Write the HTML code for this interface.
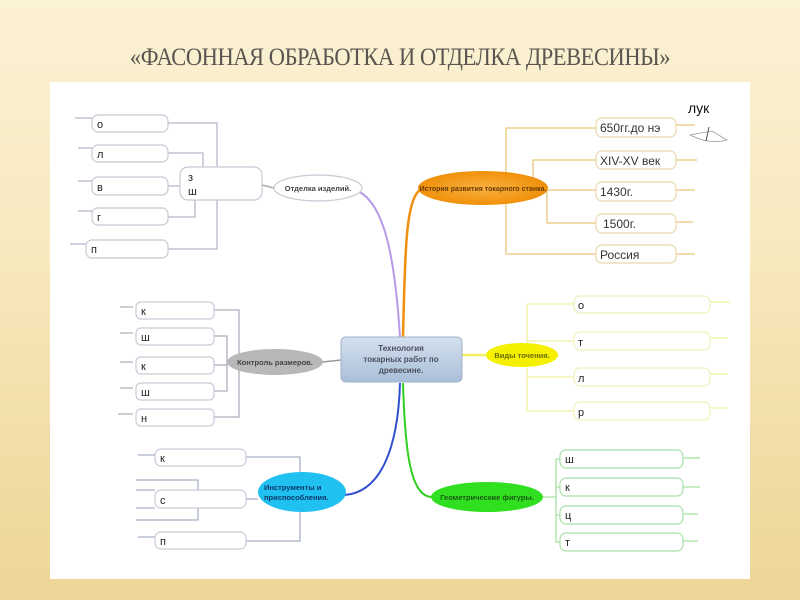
<!DOCTYPE html>
<html><head><meta charset="utf-8"><style>
html,body{margin:0;padding:0;width:800px;height:600px;overflow:hidden}
body{background:linear-gradient(180deg,#fbf1d4 0%,#f8e9bf 40%,#ecd596 100%);position:relative;font-family:"Liberation Sans","Noto Sans CJK SC",sans-serif}
.title{position:absolute;left:0;top:44px;width:800px;text-align:center;font-family:"Liberation Serif","Noto Serif CJK SC",serif;font-size:25px;color:#5a5550;letter-spacing:-0.5px;transform:scaleX(0.9)}
.panel{position:absolute;left:50px;top:82px;width:700px;height:497px;background:#fff}
svg{position:absolute;left:0;top:0}
</style></head><body>
<div class="title">«ФАСОННАЯ ОБРАБОТКА И ОТДЕЛКА ДРЕВЕСИНЫ»</div>
<div class="panel"></div>
<svg width="800" height="600" font-family="Liberation Sans, sans-serif">
<defs>
<linearGradient id="cg" x1="0" y1="0" x2="0" y2="1"><stop offset="0" stop-color="#d4e0ee"/><stop offset="1" stop-color="#a9bfd8"/></linearGradient>
<radialGradient id="og"><stop offset="0" stop-color="#f9b040"/><stop offset="1" stop-color="#f0900a"/></radialGradient>
</defs>
<!-- main curves -->
<path d="M355,190 C385,200 395,260 400,337" stroke="#b89ae8" stroke-width="2" fill="none"/>
<path d="M420,190 C405,200 405,260 403,337" stroke="#f09010" stroke-width="2.5" fill="none"/>
<path d="M400,383 C398,450 380,492 345,495" stroke="#3050d0" stroke-width="2" fill="none"/>
<path d="M403,383 C405,450 410,497 432,497" stroke="#30d020" stroke-width="2" fill="none"/>
<path d="M462,355 L487,355" stroke="#f0f060" stroke-width="2.5"/>
<path d="M341,360 L323,362" stroke="#999" stroke-width="1.5"/>
<path d="M262,185 L274,188" stroke="#aaa" stroke-width="1.5"/>

<!-- left top bracket -->
<g stroke="#b8b8cc" stroke-width="1.3" fill="none">
<path d="M168,123 H217 V249 H168"/>
<path d="M168,153 H203 V167"/>
<path d="M168,217 H195 V200"/>
<path d="M168,186 H180"/>
<path d="M75,118 H92 M78,148 H92 M78,181 H92 M78,211 H92 M70,244 H86"/>
</g>
<g fill="#fff" stroke="#c8c8d4" stroke-width="1.2">
<rect x="92" y="115" width="76" height="17" rx="6"/>
<rect x="92" y="145" width="76" height="17" rx="6"/>
<rect x="92" y="177" width="76" height="18" rx="6"/>
<rect x="92" y="208" width="76" height="17" rx="6"/>
<rect x="86" y="240" width="82" height="18" rx="6"/>
<rect x="180" y="167" width="82" height="33" rx="8"/>
<ellipse cx="318" cy="188" rx="44" ry="13"/>
</g>
<g font-size="11" fill="#222">
<text x="97" y="128">о</text><text x="97" y="158">л</text><text x="97" y="191">в</text><text x="97" y="221">г</text><text x="91" y="253">п</text>
<text x="188" y="181">з</text><text x="188" y="195">ш</text>
</g>
<text x="318" y="191" font-size="7.5" font-weight="bold" fill="#444" text-anchor="middle">Отделка изделий.</text>

<!-- orange history -->
<g stroke="#e8c878" stroke-width="1.3" fill="none">
<path d="M596,128 H506 V254 H596"/>
<path d="M596,160 H533 V188"/>
<path d="M596,223 H547 V188"/>
<path d="M548,190 H596"/>
<path d="M676,125 H695 M676,160 H697 M676,190 H695 M676,222 H693 M676,254 H695"/>
</g>
<ellipse cx="483" cy="188" rx="65" ry="17" fill="url(#og)"/>
<text x="483" y="191" font-size="7" font-weight="bold" fill="#6a3a00" text-anchor="middle">История развития токарного станка.</text>
<g fill="#fff" stroke="#e8d8a8" stroke-width="1.2">
<rect x="596" y="118" width="80" height="19" rx="6"/>
<rect x="596" y="151" width="80" height="18" rx="6"/>
<rect x="596" y="182" width="80" height="19" rx="6"/>
<rect x="596" y="214" width="80" height="19" rx="6"/>
<rect x="596" y="245" width="80" height="18" rx="6"/>
</g>
<g font-size="12" fill="#333">
<text x="600" y="132">650гг.до нэ</text><text x="600" y="165">XIV-XV век</text><text x="600" y="196">1430г.</text><text x="603" y="228">1500г.</text><text x="600" y="259">Россия</text>
</g>
<text x="688" y="113" font-size="14" fill="#111">лук</text>
<path d="M690,135 L712,131 L727,140 Q710,145 690,135 Z" fill="none" stroke="#999" stroke-width="0.8"/>
<path d="M709,127 L706,141" stroke="#555" stroke-width="1"/>

<!-- control -->
<g stroke="#aab0bc" stroke-width="1.3" fill="none">
<path d="M214,310 H239 V417 H214"/>
<path d="M214,336 H227 V362"/>
<path d="M214,391 H227 V362"/>
<path d="M214,365 H227"/>
<path d="M120,307 H133 M120,333 H133 M120,362 H133 M120,388 H133 M118,414 H133"/>
</g>
<g fill="#fff" stroke="#c8ccd8" stroke-width="1.2">
<rect x="136" y="302" width="78" height="17" rx="5"/>
<rect x="136" y="328" width="78" height="17" rx="5"/>
<rect x="136" y="357" width="78" height="17" rx="5"/>
<rect x="136" y="383" width="78" height="17" rx="5"/>
<rect x="136" y="409" width="78" height="17" rx="5"/>
</g>
<ellipse cx="275" cy="362" rx="48" ry="13" fill="#b8b8b8"/>
<text x="275" y="365" font-size="7.5" font-weight="bold" fill="#444" text-anchor="middle">Контроль размеров.</text>
<g font-size="11" fill="#222">
<text x="141" y="315">к</text><text x="141" y="341">ш</text><text x="141" y="370">к</text><text x="141" y="396">ш</text><text x="141" y="422">н</text>
</g>

<!-- center -->
<rect x="341" y="337" width="121" height="45" rx="5" fill="url(#cg)" stroke="#9fb2c8"/>
<g font-size="8" font-weight="bold" fill="#4a5060" text-anchor="middle">
<text x="401" y="351">Технология</text><text x="401" y="362">токарных работ по</text><text x="401" y="373">древесине.</text>
</g>

<!-- yellow -->
<g stroke="#f0f0a0" stroke-width="1.3" fill="none">
<path d="M574,304 H527 V411 H574"/>
<path d="M527,341 H574 M527,377 H574"/>
<path d="M710,302 H730 M710,338 H728 M710,374 H728 M710,408 H728"/>
</g>
<g fill="#fff" stroke="#f0f0b8" stroke-width="1.2">
<rect x="574" y="296" width="136" height="17" rx="6"/>
<rect x="574" y="332" width="136" height="18" rx="6"/>
<rect x="574" y="368" width="136" height="18" rx="6"/>
<rect x="574" y="402" width="136" height="18" rx="6"/>
</g>
<ellipse cx="522" cy="355" rx="36" ry="12" fill="#f4f000"/>
<text x="522" y="358" font-size="7.5" font-weight="bold" fill="#6a6a00" text-anchor="middle">Виды точения.</text>
<g font-size="11" fill="#222">
<text x="578" y="309">о</text><text x="578" y="346">т</text><text x="578" y="382">л</text><text x="578" y="416">р</text>
</g>

<!-- green -->
<g stroke="#a8e0a0" stroke-width="1.3" fill="none">
<path d="M560,459 H556 V542 H560"/>
<path d="M556,487 H560 M556,515 H560 M543,497 H556"/>
<path d="M683,458 H700 M683,487 H700 M683,514 H698 M683,541 H698"/>
</g>
<g fill="#fff" stroke="#a8e0a8" stroke-width="1.2">
<rect x="560" y="450" width="123" height="18" rx="6"/>
<rect x="560" y="478" width="123" height="18" rx="6"/>
<rect x="560" y="506" width="123" height="18" rx="6"/>
<rect x="560" y="533" width="123" height="18" rx="6"/>
</g>
<ellipse cx="487" cy="497" rx="56" ry="15" fill="#30e020"/>
<text x="487" y="500" font-size="7.5" font-weight="bold" fill="#1a5a10" text-anchor="middle">Геометрические фигуры.</text>
<g font-size="11" fill="#222">
<text x="565" y="463">ш</text><text x="565" y="491">к</text><text x="565" y="519">ц</text><text x="565" y="546">т</text>
</g>

<!-- instruments -->
<g stroke="#a8b0c8" stroke-width="1.3" fill="none">
<path d="M246,457 H300 V474 M300,512 V541 H246"/>
<path d="M246,499 H258"/>
<path d="M136,480 H198 V520 H136 M136,490 H155 M136,508 H155"/>
<path d="M138,455 H155 M138,537 H155"/>
</g>
<g fill="#fff" stroke="#c8ccd8" stroke-width="1.2">
<rect x="155" y="449" width="91" height="17" rx="6"/>
<rect x="155" y="490" width="91" height="18" rx="6"/>
<rect x="155" y="532" width="91" height="17" rx="6"/>
</g>
<ellipse cx="302" cy="492" rx="44" ry="20" fill="#20c0f0"/>
<g font-size="7.5" font-weight="bold" fill="#0a3a6a"><text x="264" y="490">Инструменты и</text><text x="264" y="500">приспособления.</text></g>
<g font-size="11" fill="#222">
<text x="160" y="462">к</text><text x="160" y="504">с</text><text x="160" y="545">п</text>
</g>
</svg>
</body></html>
